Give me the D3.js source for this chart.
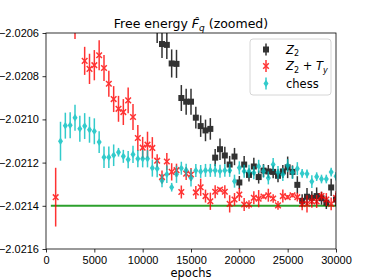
<!DOCTYPE html>
<meta charset="utf-8">
<style>
body { margin: 0; background: #fff; }
svg { font-family: "DejaVu Sans", sans-serif; }
.tick text { font-size: 11px; fill: #000; }
</style>
<body>
<svg width="374" height="280"></svg>
<script src="https://cdn.jsdelivr.net/npm/d3@7"></script>
<script>

// Z2 (black squares)
var z2Epochs = [11500, 12000, 12500, 13000, 13500, 14000, 14500, 15000, 15500, 16000, 16500, 17000, 17500, 18000, 18500, 19000, 19500, 20000, 20500, 21000, 21500, 22000, 22500, 23000, 23500, 24000, 24500, 25000, 25500, 26000, 26500, 27000, 27500, 28000, 28500, 29000, 29500, 30000];
var z2Values = [-2.020577, -2.020651, -2.020655, -2.020741, -2.020743, -2.020901, -2.020918, -2.020918, -2.020992, -2.021031, -2.021051, -2.021044, -2.021177, -2.021138, -2.021167, -2.021209, -2.021172, -2.021292, -2.021209, -2.021257, -2.021218, -2.021267, -2.021237, -2.021241, -2.021243, -2.021261, -2.021241, -2.021222, -2.021243, -2.021303, -2.021377, -2.021358, -2.021363, -2.021355, -2.021365, -2.021385, -2.021315, -2.021371];
var z2Errors = [0.000069, 0.000065, 0.000065, 0.000065, 0.000065, 0.00006, 0.00006, 0.00006, 0.00005, 0.00005, 0.00005, 0.00005, 0.00004, 0.00005, 0.00004, 0.00004, 0.00004, 0.00003, 0.00004, 0.00003, 0.00004, 0.00003, 0.00003, 0.00003, 0.00003, 0.00003, 0.00003, 0.00005, 0.00003, 0.00004, 0.00003, 0.00004, 0.00003, 0.00004, 0.00003, 0.00003, 0.00004, 0.00003];

// Z2 + Ty (red crosses)
var z2tyEpochs = [1000, 3000, 4000, 4500, 5000, 5500, 6000, 6500, 7000, 7500, 8000, 8500, 9000, 9500, 10000, 10500, 11000, 11500, 12000, 12500, 13000, 13500, 14000, 14500, 15000, 15500, 16000, 16500, 17000, 17500, 18000, 18500, 19000, 19500, 20000, 20500, 21000, 21500, 22000, 22500, 23000, 23500, 24000, 24500, 25000, 25500, 26000, 26500, 27000, 27500, 28000, 28500, 29000, 29500, 30000];
var z2tyValues = [-2.02136, -2.02054, -2.020729, -2.020766, -2.020749, -2.020703, -2.020762, -2.020835, -2.020906, -2.020951, -2.020966, -2.020912, -2.020989, -2.021086, -2.021131, -2.021117, -2.021132, -2.021191, -2.021267, -2.021195, -2.021243, -2.021235, -2.021336, -2.021251, -2.021255, -2.021338, -2.021314, -2.021355, -2.021379, -2.021335, -2.021325, -2.021335, -2.021391, -2.021371, -2.021348, -2.021394, -2.021394, -2.021363, -2.021367, -2.021357, -2.021351, -2.021366, -2.021398, -2.021355, -2.02136, -2.021351, -2.02136, -2.021391, -2.021391, -2.021379, -2.02138, -2.021355, -2.021371, -2.021391, -2.021363];
var z2tyErrors = [0.000136, 0.000088, 0.000065, 0.00007, 0.00007, 0.00007, 0.00006, 0.00006, 0.00006, 0.00006, 0.00006, 0.00006, 0.00006, 0.00006, 0.00005, 0.00006, 0.00005, 0.00003, 0.00003, 0.00004, 0.00004, 0.00003, 0.00003, 0.00003, 0.00003, 0.00003, 0.00004, 0.00003, 0.00004, 0.00003, 0.00001, 0.00003, 0.00004, 0.00003, 0.00003, 0.00003, 0.00002, 0.00003, 0.00004, 0.00001, 0.00003, 0.00002, 0.00002, 0.00003, 0.00001, 0.00001, 0.00002, 0.00003, 0.00004, 0.00003, 0.00003, 0.00002, 0.00003, 0.00003, 0.00003];

// chess (cyan diamonds)
var chessEpochs = [1500, 2000, 2500, 3000, 3500, 4000, 4500, 5000, 5500, 6000, 6500, 7000, 7500, 8000, 8500, 9000, 9500, 10000, 10500, 11000, 11500, 12000, 12500, 13000, 13500, 14000, 14500, 15000, 15500, 16000, 16500, 17000, 17500, 18000, 18500, 19000, 19500, 20000, 20500, 21000, 21500, 22000, 22500, 23000, 23500, 24000, 24500, 25000, 25500, 26000, 26500, 27000, 27500, 28000, 28500, 29000, 29500, 30000];
var chessValues = [-2.021101, -2.021029, -2.021027, -2.020992, -2.021043, -2.021031, -2.021048, -2.021055, -2.021105, -2.021175, -2.021175, -2.021166, -2.021152, -2.021171, -2.021186, -2.021162, -2.021182, -2.021182, -2.021182, -2.021225, -2.021228, -2.021284, -2.021254, -2.021314, -2.021254, -2.021226, -2.021235, -2.021271, -2.021237, -2.021241, -2.021236, -2.021236, -2.021236, -2.02124, -2.021236, -2.021236, -2.021286, -2.021224, -2.02124, -2.02124, -2.021247, -2.021217, -2.02124, -2.021271, -2.021209, -2.021246, -2.021255, -2.021214, -2.021246, -2.021228, -2.02125, -2.021252, -2.021288, -2.021265, -2.021276, -2.021276, -2.021244, -2.021263];
var chessErrors = [0.00009, 0.00006, 0.00006, 0.00006, 0.00006, 0.00006, 0.00006, 0.00006, 0.00005, 0.00005, 0.00005, 0.00005, 0.00002, 0.00003, 0.00004, 0.00004, 0.00004, 0.00004, 0.00004, 0.00004, 0.00004, 0.00003, 0.00004, 0.00002, 0.00004, 0.00003, 0.00003, 0.00004, 0.00003, 0.00003, 0.00003, 0.00003, 0.00003, 0.00003, 0.00003, 0.00003, 0.00003, 0.00003, 0.00003, 0.00003, 0.00003, 0.00003, 0.00003, 0.00003, 0.00003, 0.00003, 0.00003, 0.00003, 0.00003, 0.00003, 0.00002, 0.00002, 0.00003, 0.00002, 0.00002, 0.00002, 0.00002, 0.00002];

// exact reference value (green line)
var refValue = -2.0214;
var refEpochs = [500, 30000];

var xTicks = [0, 5000, 10000, 15000, 20000, 25000, 30000];
var yTicks = [-2.0216, -2.0214, -2.0212, -2.0210, -2.0208, -2.0206];

var svg = d3.select("svg"),
    plotLeft = 46, plotRight = 336, plotTop = 33, plotBottom = 249;

var x = d3.scaleLinear().domain([0, 30000]).range([plotLeft, plotRight]);
var y = d3.scaleLinear().domain([-2.0216, -2.0206]).range([plotBottom, plotTop]);

svg.append("defs").append("clipPath").attr("id", "clip")
  .append("rect").attr("x", plotLeft).attr("y", plotTop)
  .attr("width", plotRight - plotLeft).attr("height", plotBottom - plotTop);

var plot = svg.append("g").attr("clip-path", "url(#clip)");

// green reference line
plot.append("line")
    .attr("x1", x(refEpochs[0])).attr("x2", x(refEpochs[1]))
    .attr("y1", y(refValue)).attr("y2", y(refValue))
    .attr("stroke", "#2ca02c").attr("stroke-width", 2);

function zip(e, v, s) {
  return e.map(function(d, i) { return {x: d, y: v[i], e: s[i]}; });
}

var series = [
  {name: "z2", color: "#000000", data: zip(z2Epochs, z2Values, z2Errors)},
  {name: "z2ty", color: "#ff0000", data: zip(z2tyEpochs, z2tyValues, z2tyErrors)},
  {name: "chess", color: "#00bfbf", data: zip(chessEpochs, chessValues, chessErrors)}
];

function marker(sel, name, color) {
  if (name == "z2") {
    sel.append("rect").attr("x", -3).attr("y", -3).attr("width", 6).attr("height", 6)
      .attr("fill", color);
  } else if (name == "z2ty") {
    sel.append("path").attr("d", "M-2.8,-2.8L2.8,2.8M-2.8,2.8L2.8,-2.8")
      .attr("stroke", color).attr("stroke-width", 1.5).attr("fill", "none");
  } else {
    sel.append("path").attr("d", "M0,-3.8L2.5,0L0,3.8L-2.5,0Z")
      .attr("fill", color);
  }
}

series.forEach(function(s) {
  var g = plot.append("g").attr("opacity", 0.8);
  g.selectAll("line")
    .data(s.data)
    .enter().append("line")
      .attr("x1", function(d) { return x(d.x); })
      .attr("x2", function(d) { return x(d.x); })
      .attr("y1", function(d) { return y(d.y - d.e); })
      .attr("y2", function(d) { return y(d.y + d.e); })
      .attr("stroke", s.color)
      .attr("stroke-width", 1.5);
  g.selectAll("g.pt")
    .data(s.data)
    .enter().append("g")
      .attr("class", "pt")
      .attr("transform", function(d) { return "translate(" + x(d.x) + "," + y(d.y) + ")"; })
      .each(function() { marker(d3.select(this), s.name, s.color); });
});

// axes
svg.append("g")
    .attr("transform", "translate(0," + plotBottom + ")")
    .call(d3.axisBottom(x).tickValues(xTicks).tickSize(3.5).tickPadding(3.5).tickFormat(d3.format("d")))
    .call(function(g) { g.select(".domain").remove(); });

svg.append("g")
    .attr("transform", "translate(" + plotLeft + ",0)")
    .call(d3.axisLeft(y).tickValues(yTicks).tickSize(3.5).tickPadding(3.5).tickFormat(d3.format(".4f")))
    .call(function(g) { g.select(".domain").remove(); });

svg.selectAll(".tick line").attr("stroke", "#000").attr("stroke-width", 0.8);

// frame
svg.append("rect")
    .attr("x", plotLeft).attr("y", plotTop)
    .attr("width", plotRight - plotLeft).attr("height", plotBottom - plotTop)
    .attr("fill", "none").attr("stroke", "#000").attr("stroke-width", 0.8);

// title
var title = svg.append("text")
    .attr("x", (plotLeft + plotRight) / 2).attr("y", 28)
    .attr("text-anchor", "middle")
    .attr("font-size", 12.5);
title.append("tspan").text("Free energy ");
title.append("tspan").attr("font-style", "italic").text("F\u0302");
title.append("tspan").attr("font-style", "italic").attr("font-size", 9).attr("dy", 3).text("q");
title.append("tspan").attr("dy", -3).text(" (zoomed)");

svg.append("text")
    .attr("x", (plotLeft + plotRight) / 2).attr("y", 277)
    .attr("text-anchor", "middle")
    .attr("font-size", 11.5)
    .text("epochs");

// legend
var legend = svg.append("g");
legend.append("rect")
    .attr("x", 250).attr("y", 39).attr("width", 81).attr("height", 56).attr("rx", 3)
    .attr("fill", "#fff").attr("fill-opacity", 0.8)
    .attr("stroke", "#cccccc").attr("stroke-width", 0.8);

var rows = [49.5, 66, 83.5];
series.forEach(function(s, i) {
  var r = legend.append("g").attr("transform", "translate(266," + rows[i] + ")").attr("opacity", 0.8);
  r.append("line").attr("y1", -6).attr("y2", 6).attr("stroke", s.color).attr("stroke-width", 1.5);
  marker(r, s.name, s.color);
});

var t1 = legend.append("text").attr("x", 286).attr("y", rows[0] + 4).attr("font-size", 11.5);
t1.append("tspan").attr("font-style", "italic").text("Z");
t1.append("tspan").attr("font-size", 8).attr("dy", 2.5).text("2");

var t2 = legend.append("text").attr("x", 286).attr("y", rows[1] + 4).attr("font-size", 11.5);
t2.append("tspan").attr("font-style", "italic").text("Z");
t2.append("tspan").attr("font-size", 8).attr("dy", 2.5).text("2");
t2.append("tspan").attr("dy", -2.5).text(" + ");
t2.append("tspan").attr("font-style", "italic").text("T");
t2.append("tspan").attr("font-style", "italic").attr("font-size", 8).attr("dy", 2.5).text("y");

legend.append("text").attr("x", 286).attr("y", rows[2] + 4).attr("font-size", 11.5).text("chess");

</script>
</body>
